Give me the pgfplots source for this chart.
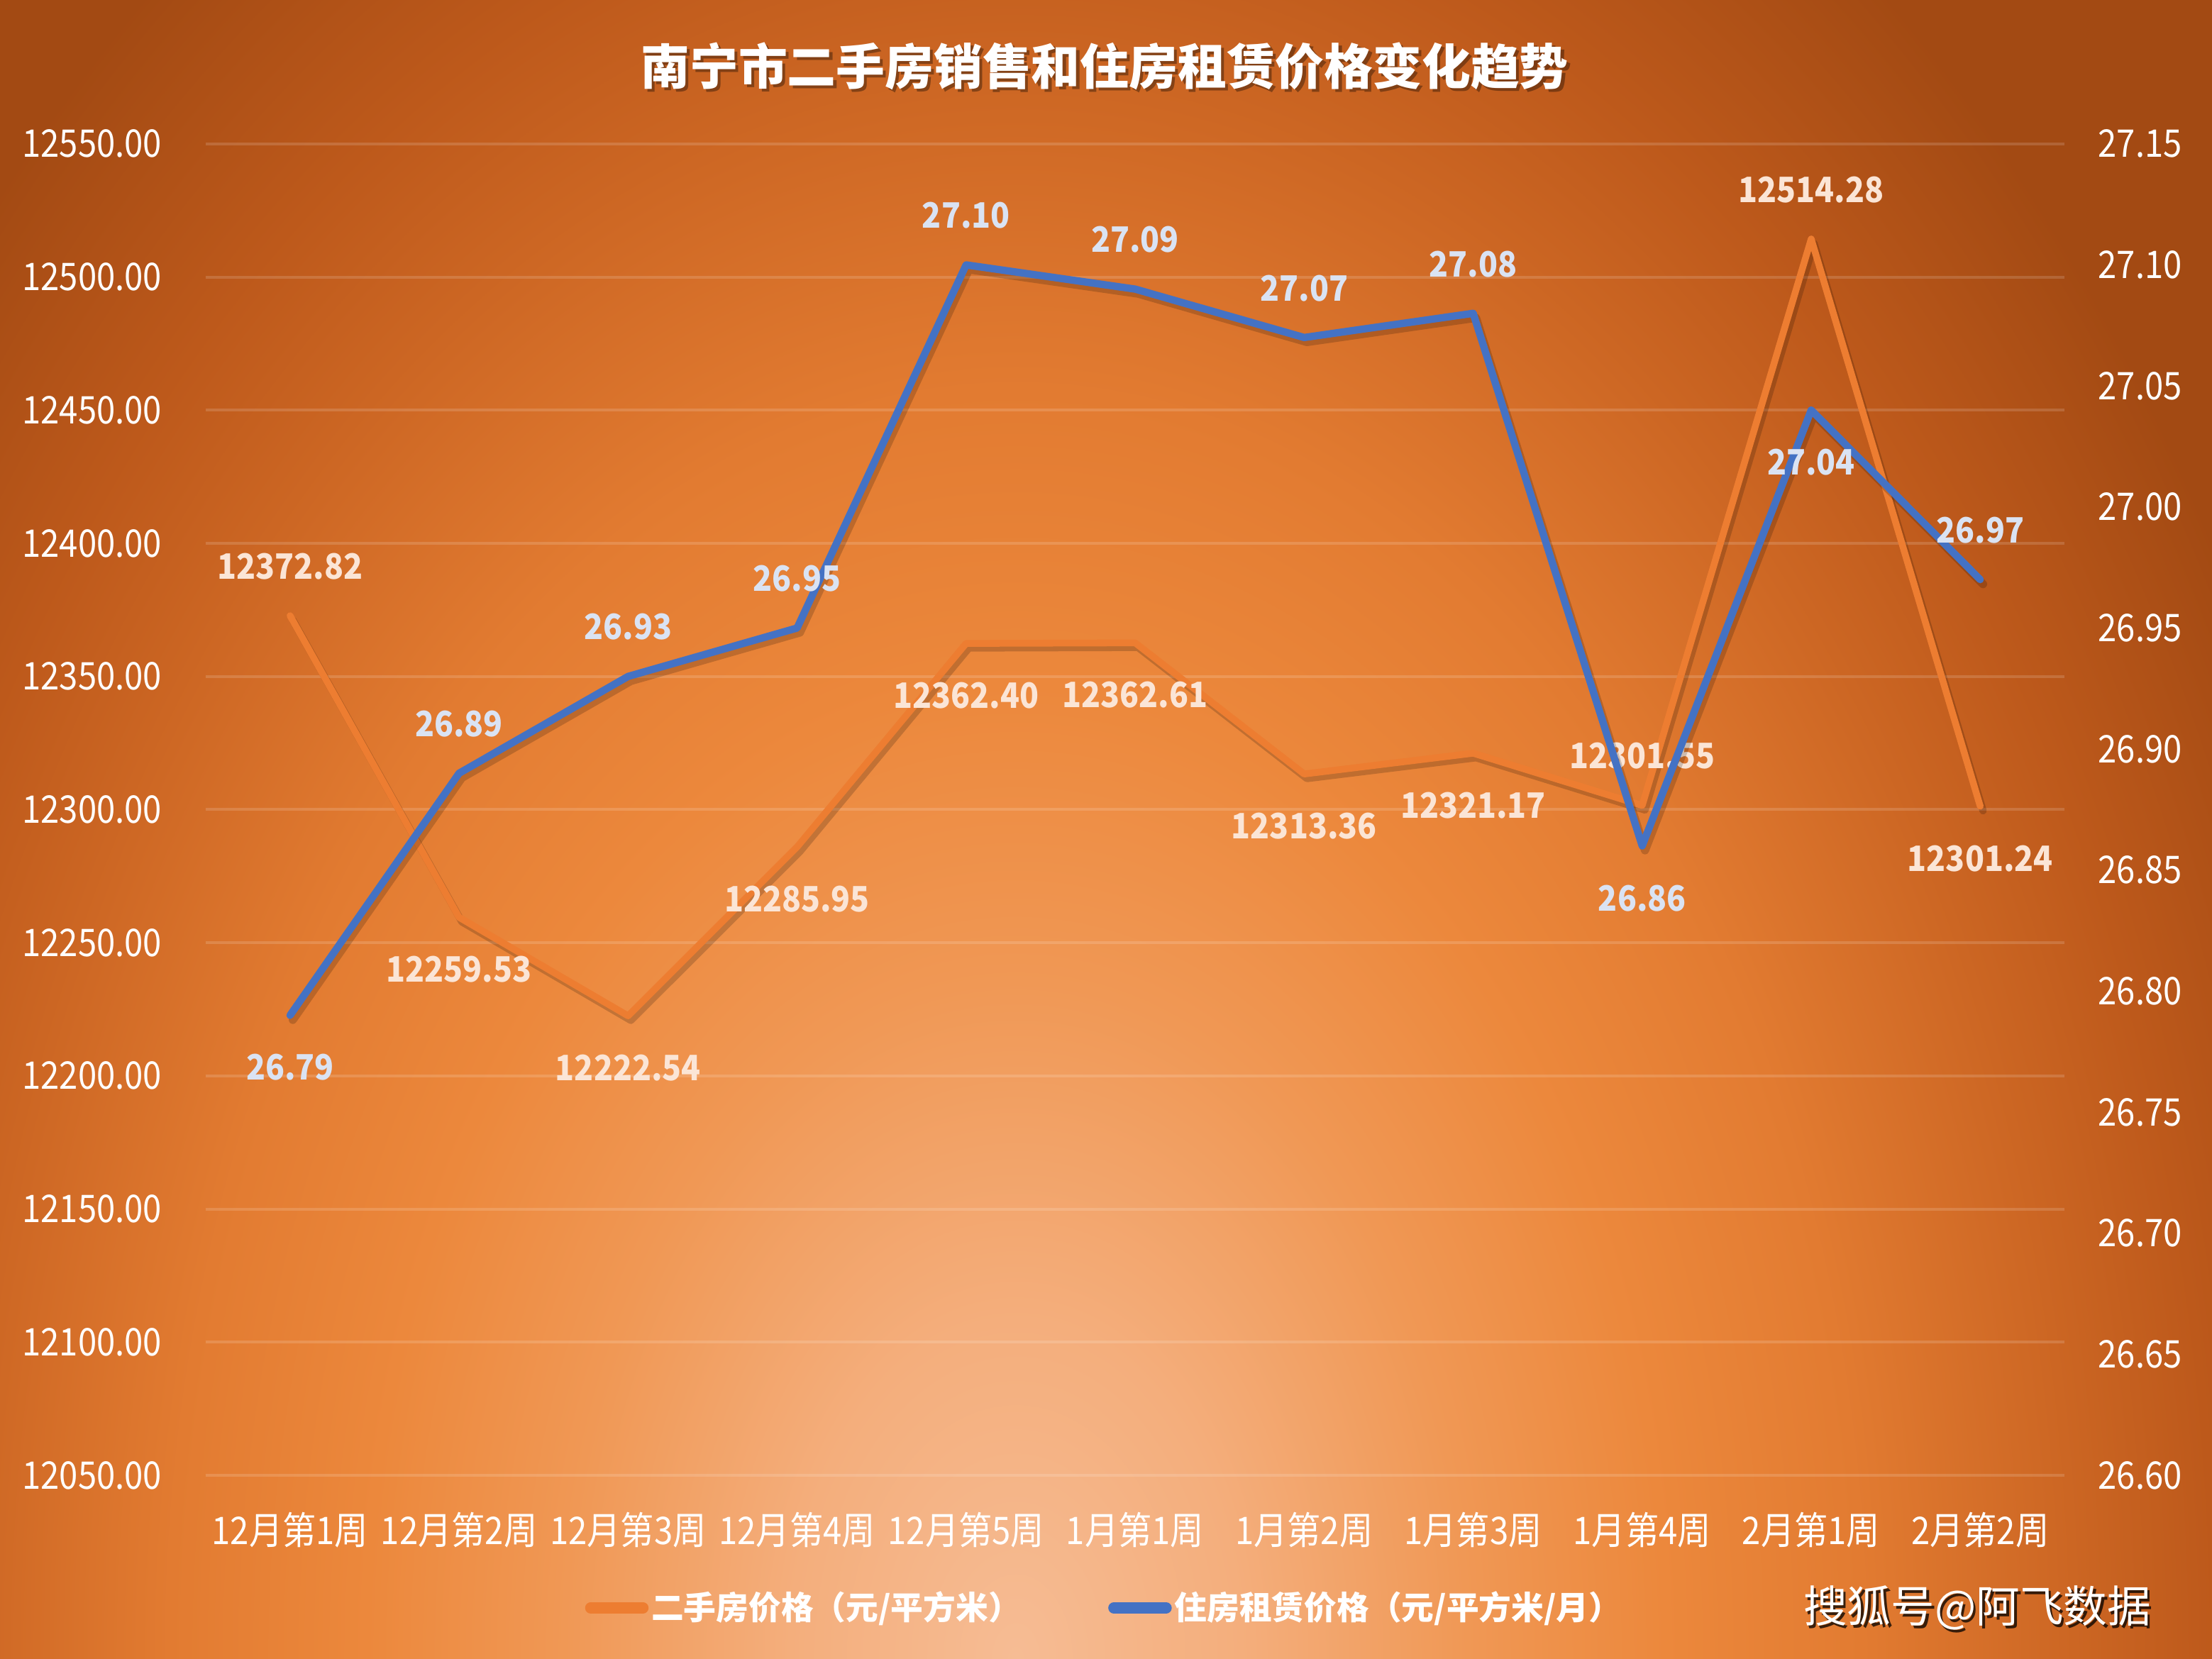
\documentclass[border=0pt]{standalone}
\usepackage{fontspec}
\setmainfont{Noto Sans CJK SC}
\newfontfamily\tickfont{Noto Sans CJK SC}[FakeStretch=0.88]
\newfontfamily\labfont{Noto Sans CJK SC}[FakeStretch=0.9]
\usepackage{pgfplots}
\usepackage{pgfplotstable}
\pgfplotsset{compat=1.18}

\definecolor{ser1}{HTML}{ED7D31}
\definecolor{ser2}{HTML}{4472C4}
\definecolor{lab1}{HTML}{FBE5D6}
\definecolor{lab2}{HTML}{DAE3F3}
\definecolor{bg0}{HTML}{F6BC94}
\definecolor{bg1}{HTML}{F4AE7C}
\definecolor{bg2}{HTML}{F09855}
\definecolor{bg3}{HTML}{EC883C}
\definecolor{bg4}{HTML}{E27B31}
\definecolor{bg5}{HTML}{CC6623}
\definecolor{bg6}{HTML}{BD591B}
\definecolor{bg7}{HTML}{A34A13}
\pgfdeclareradialshading{bgglow}{\pgfpoint{0bp}{0bp}}{%
  color(0bp)=(bg0); color(4bp)=(bg1); color(8bp)=(bg2);
  color(11.5bp)=(bg3); color(15bp)=(bg4); color(18.75bp)=(bg5);
  color(21.25bp)=(bg6); color(25bp)=(bg7); color(50bp)=(bg7)}

% x, second-hand price, label offset, rent, label offset
\pgfplotstableread{
x  sale      salepos  rent   rentpos
0  12372.82   17.5    26.79  -18.5
1  12259.53  -18.5    26.89   17.5
2  12222.54  -18.5    26.93   17.5
3  12285.95  -18.5    26.95   17.5
4  12362.40  -18.5    27.10   17.5
5  12362.61  -18.5    27.09   17.5
6  12313.36  -18.5    27.07   17.5
7  12321.17  -18.5    27.08   17.5
8  12301.55   17.5    26.86  -18.5
9  12514.28   17.5    27.04  -18.5
10 12301.24  -18.5    26.97   17.5
}\datatab

\pgfplotsset{
  base/.style={
    at={(72.85pt,65pt)}, anchor=south west,
    width=658.95pt, height=472pt, scale only axis,
    xmin=-0.5, xmax=10.5, clip=false,
    axis line style={draw=none}, major tick length=0pt,
    scaled y ticks=false,
    /pgf/number format/assume math mode=true,
    tick label style={text=white, font=\tickfont\fontsize{13.5}{16}\selectfont, inner sep=0pt},
  },
  labs/.style={draw=none, mark=none, forget plot, nodes near coords,
    point meta=explicit symbolic,
    nodes near coords style={anchor=center, yshift=\lpos,
      font=\labfont\bfseries\fontsize{12.4}{15}\selectfont, text=#1}},
}

\begin{document}
\begin{tikzpicture}
\useasboundingbox (0,0) rectangle (784pt,588pt);
\begin{scope}
  \clip (0,0) rectangle (784pt,588pt);
  \shade[shading=bgglow] (-140pt,-750pt) rectangle (860pt,750pt);
\end{scope}

\node[font=\bfseries\fontsize{17.3}{20}\selectfont, text=black, opacity=0.35] at (392.6pt,563.4pt) {南宁市二手房销售和住房租赁价格变化趋势};
\node[font=\bfseries\fontsize{17.3}{20}\selectfont, text=white] at (391.5pt,564.5pt) {南宁市二手房销售和住房租赁价格变化趋势};

\begin{axis}[base,
  ymin=12050, ymax=12550,
  xtick={0,...,10},
  xticklabels={12月第1周,12月第2周,12月第3周,12月第4周,12月第5周,1月第1周,1月第2周,1月第3周,1月第4周,2月第1周,2月第2周},
  ytick={12050,12100,...,12550},
  ymajorgrids, major grid style={white, opacity=0.15, line width=1pt},
  yticklabel={\pgfmathprintnumber[fixed,fixed zerofill,precision=2,1000 sep={}]{\tick}},
  yticklabel style={anchor=east, xshift=-15.3pt},
  xticklabel style={anchor=center, yshift=-19.5pt},
  legend columns=2,
  legend style={at={(0.4836,-0.0996)}, anchor=center, draw=none, fill=none,
    text=white, font=\bfseries\fontsize{11.5}{14}\selectfont,
    inner sep=0pt, nodes={inner sep=1pt},
    /tikz/every even column/.append style={column sep=30pt}},
  legend image code/.code={\draw[#1, line width=4pt, line cap=round] (2pt,0pt) -- (20.5pt,0pt);},
]
\addplot[black, opacity=0.18, line width=2.6pt, line join=round, line cap=round, forget plot,
  transform canvas={xshift=1pt, yshift=-1.6pt}] table[x=x, y=sale]{\datatab};
\addplot[ser1, line width=2.4pt, line join=round, line cap=round] table[x=x, y=sale]{\datatab};
\addlegendentry{二手房价格（元/平方米）}
\addlegendimage{ser2, line width=2.6pt}
\addlegendentry{住房租赁价格（元/平方米/月）}
\addplot[labs=lab1, visualization depends on={\thisrow{salepos}\as\lpos}]
  table[x=x, y=sale, meta=sale]{\datatab};
\end{axis}

\begin{axis}[base,
  ymin=26.60, ymax=27.15,
  hide x axis, axis y line*=right,
  ytick={26.60,26.65,26.70,26.75,26.80,26.85,26.90,26.95,27.00,27.05,27.10,27.15},
  yticklabel={\pgfmathprintnumber[fixed,fixed zerofill,precision=2]{\tick}},
  yticklabel style={anchor=west, xshift=11.7pt},
]
\addplot[black, opacity=0.18, line width=2.9pt, line join=round, line cap=round, forget plot,
  transform canvas={xshift=1pt, yshift=-1.6pt}] table[x=x, y=rent]{\datatab};
\addplot[ser2, line width=2.6pt, line join=round, line cap=round] table[x=x, y=rent]{\datatab};
\addplot[labs=lab2, visualization depends on={\thisrow{rentpos}\as\lpos}]
  table[x=x, y=rent, meta=rent]{\datatab};
\end{axis}

\node[font=\fontsize{15.5}{18}\selectfont, text=black, opacity=0.75] at (701.7pt,16.9pt) {搜狐号@阿飞数据};
\node[font=\fontsize{15.5}{18}\selectfont, text=white] at (700.8pt,18pt) {搜狐号@阿飞数据};
\end{tikzpicture}
\end{document}
